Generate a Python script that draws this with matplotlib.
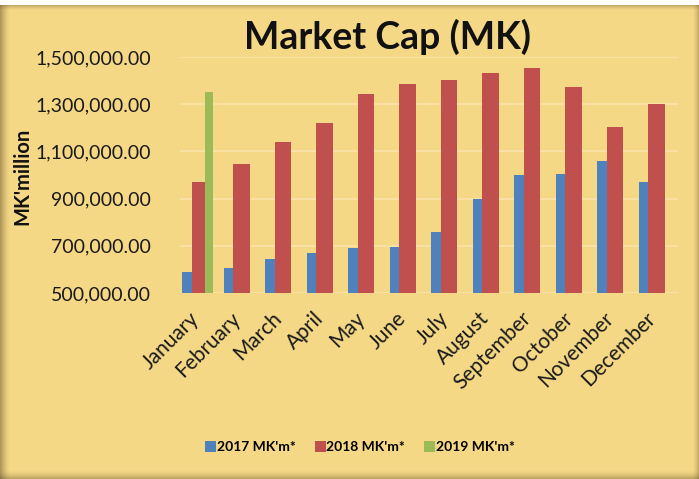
import matplotlib
matplotlib.use("Agg")
import matplotlib.pyplot as plt
import matplotlib.transforms as mtransforms
import numpy as np
from matplotlib.patches import Rectangle
from matplotlib.ticker import FuncFormatter

months = ["January", "February", "March", "April", "May", "June", "July",
          "August", "September", "October", "November", "December"]
cap_2017 = [589000, 606000, 645000, 670000, 691000, 696000, 760000,
            900000, 998000, 1006000, 1058000, 972000]
cap_2018 = [972000, 1045000, 1138000, 1219000, 1345000, 1385000, 1402000,
            1432000, 1453000, 1372000, 1202000, 1300000]
cap_2019 = [1351000]
series_labels = ["2017 MK'm*", "2018 MK'm*", "2019 MK'm*"]
yticks = [500000, 700000, 900000, 1100000, 1300000, 1500000]

BG = "#F5D886"
BLUE = "#4F81BD"
RED = "#C0504D"
GREEN = "#9BBB59"
FONT = ["Lato", "DejaVu Sans"]
plt.rcParams['font.family'] = FONT

fig = plt.figure(figsize=(6.99, 4.79), dpi=100, facecolor="white")

# chart area background with shadowed edges
fig.patches.append(Rectangle((0, 0), 1, 0.99, transform=fig.transFigure,
                             facecolor=BG, edgecolor="none", zorder=-10))
W, H = 699, 479
def strip(x0, y0, w, h, alpha):
    fig.patches.append(Rectangle((x0 / W, y0 / H), w / W, h / H, transform=fig.transFigure,
                                 facecolor="#5a4420", edgecolor="none", alpha=alpha, zorder=-9))
for i in range(10):
    strip(i, 0, 1, H - 5, 0.45 * (1 - i / 10) ** 1.5)
for i in range(8):
    strip(0, i, W, 1, 0.35 * (1 - i / 8) ** 1.5)
for i in range(6):
    strip(W - 1 - i, 0, 1, H - 5, 0.3 * (1 - i / 6) ** 1.5)
for i in range(5):
    strip(0, H - 6 - i, W, 1, 0.3 * (1 - i / 5) ** 1.5)

ax = fig.add_axes([180 / W, 1 - 293 / H, (678 - 180) / W, (293 - 57) / H])
ax.set_facecolor("none")

x = np.arange(len(months))
ax.bar(x - 0.25, np.array(cap_2017) - 500000, bottom=500000, width=0.38,
       color=BLUE, label=series_labels[0], zorder=3)
ax.bar(x - 0.02, np.array(cap_2018) - 500000, bottom=500000, width=0.40,
       color=RED, label=series_labels[1], zorder=4)
ax.bar(x[:len(cap_2019)] + 0.2, np.array(cap_2019) - 500000, bottom=500000, width=0.2,
       color=GREEN, label=series_labels[2], zorder=5)

ax.set_xlim(-0.5, len(months) - 0.5)
ax.set_ylim(500000, 1500000)
ax.set_yticks(yticks)
ax.yaxis.set_major_formatter(FuncFormatter(lambda v, p: f"{v:,.2f}"))
ax.grid(axis="y", color="#F9E3A9", linewidth=1.2, zorder=0)
ax.set_axisbelow(True)
for s in ax.spines.values():
    s.set_visible(False)
ax.axhline(500000, color="#F9E3A9", linewidth=1.2, zorder=1)
ax.tick_params(axis="both", length=0)
ax.tick_params(axis="y", labelsize=14, colors="#1a1a1a", pad=21)
ax.set_xticks(x)
ax.set_xticklabels(months, rotation=45, ha="right", rotation_mode="anchor",
                   fontsize=15, color="#1a1a1a")
ax.tick_params(axis="x", pad=11)
offset = mtransforms.ScaledTranslation(-12 / 100, 0, fig.dpi_scale_trans)
for lbl in ax.get_xticklabels():
    lbl.set_transform(lbl.get_transform() + offset)

fig.text(22 / W, 1 - 176 / H, "MK'million", rotation=90, ha="center", va="center",
         fontsize=14.5, fontweight="bold", color="#111111")
fig.text(388 / W, 1 - 37 / H, "Market Cap (MK)", ha="center", va="center",
         fontsize=27, fontweight="bold", color="#111111")

leg = fig.legend(loc="center", bbox_to_anchor=(360 / W, 1 - 447 / H), ncol=3,
                 frameon=False, handlelength=0.8, handleheight=0.8,
                 handletextpad=0.05, columnspacing=1.35, prop={"weight": "bold", "size": 10})

fig.savefig("out.png", dpi=100, facecolor=fig.get_facecolor())
